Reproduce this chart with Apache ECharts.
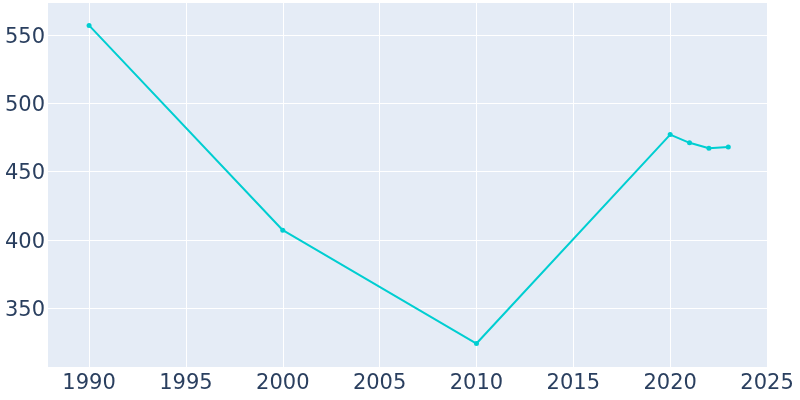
<!DOCTYPE html>
<html>
<head>
<meta charset="utf-8">
<script src="https://cdn.jsdelivr.net/npm/echarts@6/dist/echarts.min.js"></script>
<style>html,body{margin:0;padding:0;background:#fff}#c{width:800px;height:400px}</style>
</head>
<body>
<div id="c"></div>
<script>
var years = [1990, 2000, 2010, 2020, 2021, 2022, 2023];
var population = [557, 407, 324, 477, 471, 467, 468];
var xTicks = [1990, 1995, 2000, 2005, 2010, 2015, 2020, 2025];
var yTicks = [350, 400, 450, 500, 550];

var chart = echarts.init(document.getElementById('c'));
var textColor = '#2a3f5f';
function plain(v) { return String(v); }
chart.setOption({
  animation: false,
  grid: {left: 48, right: 32, top: 3, bottom: 33, show: true, backgroundColor: '#E5ECF6', borderWidth: 0},
  xAxis: {
    type: 'value', min: 1987.88, max: 2025.05,
    axisLine: {show: false}, axisTick: {show: false, customValues: xTicks},
    axisLabel: {customValues: xTicks, formatter: plain, color: textColor, fontSize: 21, fontFamily: 'DejaVu Sans', margin: 6},
    splitLine: {show: true, lineStyle: {color: '#ffffff', width: 1}}
  },
  yAxis: {
    type: 'value', min: 306.8, max: 573.4,
    axisLine: {show: false}, axisTick: {show: false, customValues: yTicks},
    axisLabel: {
      customValues: yTicks, margin: 3,
      formatter: function (v) { return '{a|' + v + '}'; },
      rich: {a: {color: textColor, fontSize: 21, fontFamily: 'DejaVu Sans', padding: [5, 0, 0, 0]}}
    },
    splitLine: {show: true, lineStyle: {color: '#ffffff', width: 1}}
  },
  series: [{
    type: 'line',
    data: years.map(function (y, i) { return [y, population[i]]; }),
    symbol: 'circle', symbolSize: 5,
    lineStyle: {color: '#00CED1', width: 2},
    itemStyle: {color: '#00CED1'}
  }]
});
</script>
</body>
</html>
